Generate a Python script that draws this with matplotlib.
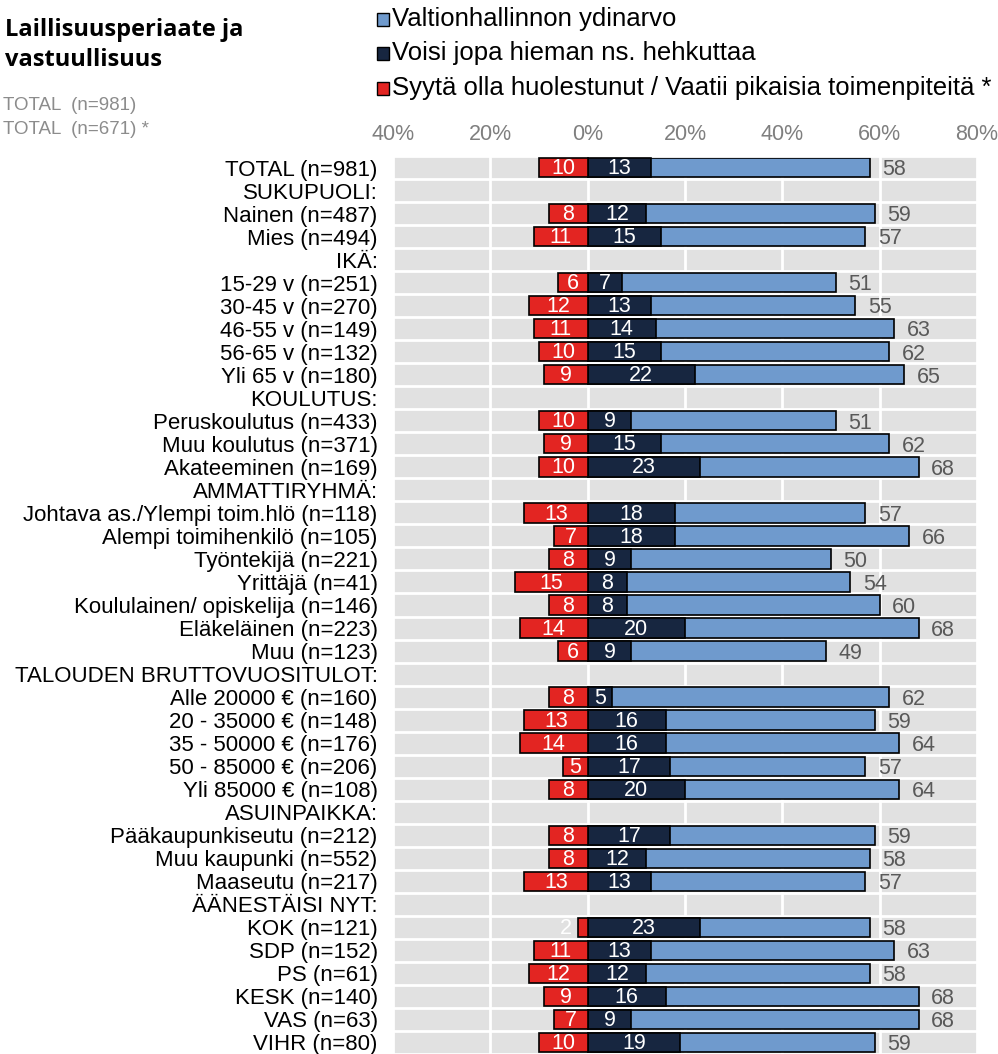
import matplotlib.pyplot as plt
from matplotlib.patches import Rectangle

# Row labels (header rows have no values)
labels = [
    "TOTAL (n=981)", "SUKUPUOLI:", "Nainen (n=487)", "Mies (n=494)", "IKÄ:",
    "15-29 v (n=251)", "30-45 v (n=270)", "46-55 v (n=149)", "56-65 v (n=132)",
    "Yli 65 v (n=180)", "KOULUTUS:", "Peruskoulutus (n=433)", "Muu koulutus (n=371)",
    "Akateeminen (n=169)", "AMMATTIRYHMÄ:", "Johtava as./Ylempi toim.hlö (n=118)",
    "Alempi toimihenkilö (n=105)", "Työntekijä (n=221)", "Yrittäjä (n=41)",
    "Koululainen/ opiskelija (n=146)", "Eläkeläinen (n=223)", "Muu (n=123)",
    "TALOUDEN BRUTTOVUOSITULOT:", "Alle 20000 € (n=160)", "20 - 35000 € (n=148)",
    "35 - 50000 € (n=176)", "50 - 85000 € (n=206)", "Yli 85000 € (n=108)",
    "ASUINPAIKKA:", "Pääkaupunkiseutu (n=212)", "Muu kaupunki (n=552)",
    "Maaseutu (n=217)", "ÄÄNESTÄISI NYT:", "KOK (n=121)", "SDP (n=152)",
    "PS (n=61)", "KESK (n=140)", "VAS (n=63)", "VIHR (n=80)",
]

N = None
huolestunut = [10, N, 8, 11, N, 6, 12, 11, 10, 9, N, 10, 9, 10, N, 13, 7, 8, 15, 8, 14, 6,
               N, 8, 13, 14, 5, 8, N, 8, 8, 13, N, 2, 11, 12, 9, 7, 10]
hehkuttaa = [13, N, 12, 15, N, 7, 13, 14, 15, 22, N, 9, 15, 23, N, 18, 18, 9, 8, 8, 20, 9,
             N, 5, 16, 16, 17, 20, N, 17, 12, 13, N, 23, 13, 12, 16, 9, 19]
ydinarvo = [58, N, 59, 57, N, 51, 55, 63, 62, 65, N, 51, 62, 68, N, 57, 66, 50, 54, 60, 68, 49,
            N, 62, 59, 64, 57, 64, N, 59, 58, 57, N, 58, 63, 58, 68, 68, 59]

legend_labels = ["Valtionhallinnon ydinarvo", "Voisi jopa hieman ns. hehkuttaa",
                 "Syytä olla huolestunut / Vaatii pikaisia toimenpiteitä *"]
ticks = [-40, -20, 0, 20, 40, 60, 80]

c_blue = "#6f9acd"
c_navy = "#172640"
c_red = "#e32522"
c_bg = "#e1e1e1"

plt.rcParams['font.family'] = ['Liberation Sans', 'DejaVu Sans']

fig = plt.figure(figsize=(9.98, 10.54), dpi=100)
ax = fig.add_axes([393 / 998, 0.0, (977 - 393) / 998, 1 - 156 / 1054])
ax.set_facecolor(c_bg)

n = len(labels)
ax.set_xlim(-40, 80)
ax.set_ylim(n - 0.5, -0.5)

# white cell grid
for x in ticks[1:-1]:
    ax.axvline(x, color="white", lw=2, zorder=1)
for i in range(n - 1):
    ax.axhline(i + 0.5, color="white", lw=2, zorder=1)
for s in ax.spines.values():
    s.set_color("white")
    s.set_linewidth(2)

h = 0.84
for i in range(n):
    if ydinarvo[i] is None:
        continue
    b = ydinarvo[i]
    nv = hehkuttaa[i]
    r = huolestunut[i]
    ax.barh(i, b, height=h, color=c_blue, edgecolor="black", lw=1.2, zorder=2)
    ax.barh(i, nv, height=h, color=c_navy, edgecolor="black", lw=1.2, zorder=3)
    ax.barh(i, -r, height=h, color=c_red, edgecolor="black", lw=1.2, zorder=3)
    ax.text(nv / 2, i + 0.05, str(nv), color="white", ha="center", va="center", fontsize=15.5, zorder=4)
    rx = -r / 2 if r > 3 else -r - 2.5
    ax.text(rx, i + 0.05, str(r), color="white", ha="center", va="center", fontsize=15.5, zorder=4)
    ax.text(b + 2.6, i + 0.1, str(b), color="#595959", ha="left", va="center", fontsize=15.5, zorder=4)

ax.set_yticks(range(n))
ax.set_yticklabels(labels, fontsize=16)
ax.tick_params(axis="y", length=0, pad=11)
ax.xaxis.tick_top()
ax.set_xticks(ticks)
ax.set_xticklabels([f"{abs(t)}%" for t in ticks], fontsize=15.5, color="#7f7f7f")
ax.tick_params(axis="x", length=0, pad=8)

# title and sub texts
fig.text(5 / 998, 1 - 30 / 1054, "Laillisuusperiaate ja", fontsize=17, fontweight="bold",
         family=["Open Sans", "DejaVu Sans"], va="center")
fig.text(5 / 998, 1 - 60 / 1054, "vastuullisuus", fontsize=17, fontweight="bold",
         family=["Open Sans", "DejaVu Sans"], va="center")
fig.text(3 / 998, 1 - 106 / 1054, "TOTAL  (n=981)", fontsize=13.5, color="#8c8c8c", va="center")
fig.text(3 / 998, 1 - 130 / 1054, "TOTAL  (n=671) *", fontsize=13.5, color="#8c8c8c", va="center")

# legend
leg_colors = [c_blue, c_navy, c_red]
for k, (lab, col) in enumerate(zip(legend_labels, leg_colors)):
    yc = [19, 53, 88][k]
    fig.patches.append(Rectangle((377 / 998, 1 - (yc + 7) / 1054), 12 / 998, 13 / 1054,
                                 transform=fig.transFigure, facecolor=col,
                                 edgecolor="black", lw=1))
    fig.text(392 / 998, 1 - yc / 1054, lab, fontsize=18.5, va="center")

fig.savefig("out.png", dpi=100)
